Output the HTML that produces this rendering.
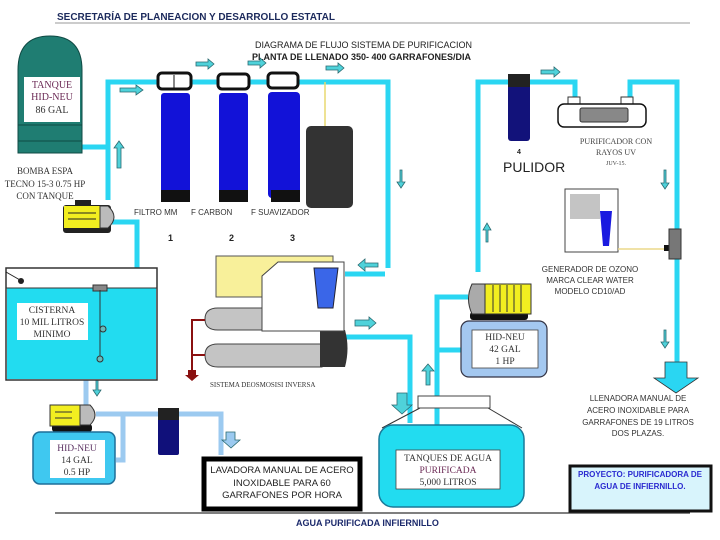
<!DOCTYPE html>
<html><head><meta charset="utf-8"><style>
html,body{margin:0;padding:0;background:#fff;width:720px;height:540px;overflow:hidden}
svg{display:block}
.s{font-family:"Liberation Sans",sans-serif}
.r{font-family:"Liberation Serif",serif}
</style></head><body>
<svg width="720" height="540" viewBox="0 0 720 540" xmlns="http://www.w3.org/2000/svg">
<!-- header -->
<text x="57" y="20" class="s" font-size="10" font-weight="bold" fill="#1c2a5c">SECRETARÍA DE PLANEACION Y DESARROLLO ESTATAL</text>
<line x1="55" y1="23" x2="690" y2="23" stroke="#999" stroke-width="1"/>
<text x="255" y="48" class="s" font-size="9" fill="#222">DIAGRAMA DE FLUJO SISTEMA DE PURIFICACION</text>
<text x="252" y="60" class="s" font-size="9" font-weight="bold" fill="#222">PLANTA DE LLENADO 350- 400  GARRAFONES/DIA</text>

<!-- pipes cyan -->
<g fill="none" stroke="#2ad6f2" stroke-width="5">
<polyline points="82,147 108,147"/>
<polyline points="108,200 108,82 388,82 388,268"/>
<polyline points="345,274 385,274"/>
<polyline points="112,222 137,222 137,275"/>
<polyline points="138,275 138,348" stroke="#55c6ee"/>
<polyline points="345,337 410,337 410,423"/>
<polyline points="437,425 437,297 468,297"/>
<polyline points="437,350 462,350"/>
<polyline points="478,272 478,82 575,82 575,102"/>
<polyline points="630,102 630,82 677,82 677,362"/>
</g>
<!-- light blue pipes bottom-left -->
<g fill="none" stroke="#9ccaf0" stroke-width="5">
<polyline points="86,356 86,410"/>
<polyline points="96,414 221,414 221,455"/>
<polyline points="123,414 123,460 116,460"/>
</g>
<line x1="325" y1="82" x2="325" y2="130" stroke="#e8d870" stroke-width="1.5"/>

<!-- tank top-left -->
<path d="M18,153 L18,70 Q18,36 50,36 Q82,36 82,70 L82,153 Z" fill="#1f7d72" stroke="#0f4a44" stroke-width="1"/>
<rect x="24" y="77" width="56" height="45" fill="#fff"/>
<line x1="18" y1="141" x2="82" y2="141" stroke="#0f4a44"/>
<line x1="18" y1="125" x2="82" y2="125" stroke="#0f4a44"/>
<text class="r" font-size="10" fill="#6b2a55" text-anchor="middle"><tspan x="52" y="88">TANQUE</tspan><tspan x="52" y="100">HID-NEU</tspan><tspan x="52" y="113" fill="#333">86  GAL</tspan></text>
<text class="r" font-size="9" fill="#333" text-anchor="middle"><tspan x="45" y="174">BOMBA ESPA</tspan><tspan x="45" y="187">TECNO 15-3  0.75 HP</tspan><tspan x="45" y="199">CON TANQUE</tspan></text>

<!-- pump 1 -->
<rect x="75" y="200" width="16" height="6" fill="#222"/>
<rect x="63" y="205" width="48" height="28" rx="3" fill="#222"/>
<rect x="64" y="206" width="36" height="22" fill="#f2ee20"/>
<line x1="68" y1="213" x2="96" y2="213" stroke="#222"/><line x1="68" y1="219" x2="96" y2="219" stroke="#222"/>
<path d="M100,206 L108,206 Q120,217 108,228 L100,228 Z" fill="#bbb" stroke="#333"/>

<!-- filters -->
<g>
<rect x="158" y="73" width="33" height="16" rx="4" fill="#fff" stroke="#111" stroke-width="3"/>
<line x1="174" y1="75" x2="174" y2="88" stroke="#111"/>
<rect x="161" y="93" width="29" height="108" rx="3" fill="#1212d8"/>
<rect x="161" y="190" width="29" height="12" fill="#111"/>
<rect x="218" y="74" width="31" height="15" rx="4" fill="#fff" stroke="#111" stroke-width="3"/>
<rect x="219" y="93" width="29" height="108" rx="3" fill="#1212d8"/>
<rect x="219" y="190" width="29" height="12" fill="#111"/>
<rect x="268" y="73" width="30" height="15" rx="4" fill="#fff" stroke="#111" stroke-width="3"/>
<rect x="268" y="92" width="32" height="106" rx="4" fill="#1212d8"/>
<rect x="271" y="190" width="29" height="12" fill="#111"/>
<rect x="306" y="126" width="47" height="82" rx="5" fill="#333"/>
</g>
<text class="s" font-size="8" fill="#333"><tspan x="134" y="215">FILTRO MM</tspan><tspan x="191" y="215">F CARBON</tspan><tspan x="251" y="215">F SUAVIZADOR</tspan></text>
<text class="s" font-size="9" font-weight="bold" fill="#222"><tspan x="168" y="241">1</tspan><tspan x="229" y="241">2</tspan><tspan x="290" y="241">3</tspan></text>

<!-- small arrows -->
<g fill="#4fd2da" stroke="#2a6a70" stroke-width="0.8">
<path d="M196,62 h12 v-3 l6,5 -6,5 v-3 h-12z"/>
<path d="M248,61 h12 v-3 l6,5 -6,5 v-3 h-12z"/>
<path d="M326,66 h12 v-3 l6,5 -6,5 v-3 h-12z"/>
<path d="M120,88 h16 v-3 l7,5 -7,5 v-3 h-16z"/>
<path d="M117,168 v-20 h-3 l5,-7 5,7 h-3 v20z"/>
<path d="M180,61 h0z"/>
<path d="M541,70 h13 v-3 l6,5 -6,5 v-3 h-13z"/>
<path d="M400,170 v12 h-3 l4,6 4,-6 h-3 v-12z"/>
<path d="M664,170 v13 h-3 l4,6 4,-6 h-3 v-13z"/>
<path d="M664,330 v12 h-3 l4,6 4,-6 h-3 v-12z"/>
<path d="M96,378 v12 h-3 l4,6 4,-6 h-3 v-12z"/>
<path d="M378,263 h-13 v-4 l-7,6 7,6 v-4 h13z"/>
<path d="M355,320 h14 v-3 l7,6 -7,6 v-3 h-14z"/>
<path d="M365,325 h0z"/>
<path d="M486,242 v-12 h-3 l4,-7 4,7 h-3 v12z"/>
<path d="M426,385 v-14 h-4 l6,-7 6,7 h-4 v14z"/>
<path d="M226,432 h9 v8 h5 l-9,8 -9,-8 h4z" fill="#9ccaf0"/>
<path d="M397,393 h10 v12 h5 l-10,9 -10,-9 h5z"/>
<path d="M364,325 h0z"/>
<path d="M355,321 h0z"/>
</g>
<path d="M480,323 h0z"/>
<path d="M487,240 h0z"/>

<!-- cisterna -->
<rect x="6" y="268" width="151" height="112" fill="#fff" stroke="#333" stroke-width="1.5"/>
<rect x="7" y="288" width="149" height="91" fill="#22dcf0"/>
<line x1="6" y1="288" x2="157" y2="288" stroke="#333"/>
<line x1="6" y1="272" x2="20" y2="280" stroke="#222"/><circle cx="21" cy="281" r="3" fill="#222"/>
<rect x="93" y="285" width="14" height="6" fill="#888" stroke="#333"/>
<line x1="100" y1="290" x2="100" y2="360" stroke="#333"/>
<circle cx="103" cy="329" r="3" fill="#6bb" stroke="#333"/><circle cx="100" cy="359" r="3" fill="#6bb" stroke="#333"/>
<rect x="17" y="303" width="71" height="37" fill="#fff"/>
<text class="r" font-size="9.5" fill="#333" text-anchor="middle"><tspan x="52" y="313">CISTERNA</tspan><tspan x="52" y="325">10 MIL LITROS</tspan><tspan x="52" y="337">MINIMO</tspan></text>

<!-- pump 2 + hidneu 14 -->
<rect x="52" y="424" width="40" height="8" rx="3" fill="#111"/>
<rect x="50" y="405" width="30" height="21" fill="#f2ee20" stroke="#333"/>
<line x1="55" y1="412" x2="72" y2="412" stroke="#333"/><line x1="55" y1="418" x2="72" y2="418" stroke="#333"/>
<path d="M80,405 L90,405 Q100,415 90,425 L80,425 Z" fill="#bbb" stroke="#333"/>
<rect x="33" y="432" width="82" height="52" rx="7" fill="#3fc8f0" stroke="#1f6f99" stroke-width="1.5"/>
<rect x="50" y="440" width="55" height="38" fill="#fff"/>
<text class="r" font-size="9.5" fill="#333" text-anchor="middle"><tspan x="77" y="451" fill="#5a3060">HID-NEU</tspan><tspan x="77" y="463">14 GAL</tspan><tspan x="77" y="475">0.5 HP</tspan></text>
<rect x="158" y="408" width="21" height="47" rx="2" fill="#10107a"/>
<rect x="158" y="408" width="21" height="12" fill="#222"/>

<!-- lavadora -->
<rect x="204" y="459" width="156" height="50" fill="#fff" stroke="#000" stroke-width="5"/>
<text class="s" font-size="9.5" fill="#222" text-anchor="middle"><tspan x="282" y="473">LAVADORA MANUAL DE ACERO</tspan><tspan x="282" y="486">INOXIDABLE PARA 60</tspan><tspan x="282" y="498">GARRAFONES  POR HORA</tspan></text>

<line x1="55" y1="513" x2="690" y2="513" stroke="#333" stroke-width="1.2"/>
<text x="296" y="526" class="s" font-size="9" font-weight="bold" fill="#1c2a6c">AGUA PURIFICADA INFIERNILLO</text>

<!-- RO system -->
<rect x="216" y="256" width="117" height="41" fill="#f8f09a" stroke="#555"/>
<path d="M205,319 Q205,308 218,308 L320,308 L320,330 L218,330 Q205,330 205,319 Z" fill="#c4c4c4" stroke="#444"/>
<path d="M205,355 Q205,344 218,344 L322,344 L322,367 L218,367 Q205,367 205,355 Z" fill="#c4c4c4" stroke="#444"/>
<path d="M320,330 L345,330 Q350,348 345,367 L320,367 Z" fill="#333"/>
<path d="M278,262 L344,262 L344,331 L262,331 L262,276 Z" fill="#fff" stroke="#444"/>
<path d="M314,268 L338,268 L333,308 L318,308 Z" fill="#3a66e8" stroke="#223"/>
<path d="M205,320 L192,320 L192,376 M192,355 L205,355" fill="none" stroke="#8a1010" stroke-width="2"/>
<path d="M188,370 h8 v5 h3 l-7,6 -7,-6 h3z" fill="#8a1010"/>
<text x="210" y="387" class="r" font-size="7" fill="#333">SISTEMA DEOSMOSISI INVERSA</text>

<!-- purified tank -->
<line x1="420" y1="408" x2="382" y2="428" stroke="#333"/><line x1="488" y1="408" x2="522" y2="428" stroke="#333"/>
<rect x="418" y="396" width="72" height="12" fill="#fff" stroke="#444"/>
<rect x="379" y="425" width="145" height="82" rx="14" fill="#22dcf0" stroke="#1a7a99" stroke-width="1.5"/>
<rect x="396" y="450" width="104" height="39" fill="#fff" stroke="#444" stroke-width="0.8"/>
<text class="r" font-size="9.5" fill="#333" text-anchor="middle"><tspan x="448" y="461">TANQUES DE AGUA</tspan><tspan x="448" y="473" fill="#6b2a55">PURIFICADA</tspan><tspan x="448" y="485">5,000 LITROS</tspan></text>

<!-- pump 3 + hidneu 42 -->
<rect x="470" y="312" width="58" height="8" rx="3" fill="#111"/>
<rect x="485" y="284" width="46" height="30" fill="#f2ee20" stroke="#333"/>
<g stroke="#333"><line x1="493" y1="285" x2="493" y2="312"/><line x1="500" y1="285" x2="500" y2="312"/><line x1="507" y1="285" x2="507" y2="312"/><line x1="514" y1="285" x2="514" y2="312"/><line x1="521" y1="285" x2="521" y2="312"/></g>
<path d="M485,284 L472,284 Q465,299 472,314 L485,314 Z" fill="#aaa" stroke="#333"/>
<rect x="461" y="321" width="86" height="56" rx="8" fill="#a4c8f0" stroke="#334" stroke-width="1.2"/>
<rect x="472" y="330" width="66" height="38" fill="#fff" stroke="#444" stroke-width="0.8"/>
<text class="r" font-size="9.5" fill="#333" text-anchor="middle"><tspan x="505" y="340">HID-NEU</tspan><tspan x="505" y="352">42 GAL</tspan><tspan x="505" y="364">1 HP</tspan></text>

<!-- pulidor -->
<rect x="508" y="74" width="22" height="67" rx="3" fill="#12127a"/>
<rect x="508" y="74" width="22" height="13" fill="#222"/>
<text x="519" y="154" class="s" font-size="7" font-weight="bold" text-anchor="middle" fill="#222">4</text>
<text x="503" y="172" class="s" font-size="14" fill="#222">PULIDOR</text>

<!-- UV -->
<rect x="568" y="97" width="12" height="7" fill="#fff" stroke="#333"/>
<rect x="621" y="97" width="12" height="7" fill="#fff" stroke="#333"/>
<rect x="558" y="104" width="88" height="23" rx="6" fill="#fff" stroke="#111" stroke-width="1.5"/>
<rect x="580" y="108" width="48" height="14" rx="2" fill="#888" stroke="#333"/>
<text class="r" font-size="8" fill="#444" text-anchor="middle"><tspan x="616" y="144">PURIFICADOR CON</tspan><tspan x="616" y="155">RAYOS UV</tspan><tspan x="616" y="165" font-size="6">JUV-15.</tspan></text>

<!-- ozone -->
<rect x="565" y="189" width="53" height="63" fill="#fff" stroke="#444"/>
<rect x="570" y="194" width="30" height="25" fill="#c4c4c4"/>
<path d="M600,211 L612,211 L609,246 L603,246 Z" fill="#1a1ae0"/>
<line x1="618" y1="249" x2="668" y2="249" stroke="#ecd88a" stroke-width="1.5"/>
<rect x="664" y="245" width="6" height="6" fill="#111"/>
<rect x="669" y="229" width="12" height="30" fill="#777" stroke="#333"/>
<text class="s" font-size="8" fill="#333" text-anchor="middle"><tspan x="590" y="272">GENERADOR DE OZONO</tspan><tspan x="590" y="283">MARCA CLEAR WATER</tspan><tspan x="590" y="294">MODELO CD10/AD</tspan></text>

<!-- big arrow llenadora -->
<path d="M665,362 h22 v16 h11 l-22,15 -22,-15 h11z" fill="#2ad6f2" stroke="#333" stroke-width="0.8"/>
<text class="s" font-size="8" fill="#333" text-anchor="middle"><tspan x="638" y="401">LLENADORA MANUAL DE</tspan><tspan x="638" y="413">ACERO INOXIDABLE PARA</tspan><tspan x="638" y="425">GARRAFONES DE 19 LITROS</tspan><tspan x="638" y="436">DOS  PLAZAS.</tspan></text>

<!-- proyecto -->
<rect x="570" y="466" width="141" height="45" fill="#d8f4fc" stroke="#111" stroke-width="3"/>
<text class="s" font-size="8" font-weight="bold" fill="#2a2ad0" text-anchor="middle"><tspan x="640" y="477">PROYECTO: PURIFICADORA DE</tspan><tspan x="640" y="489">AGUA  DE INFIERNILLO.</tspan></text>
</svg>
</body></html>
